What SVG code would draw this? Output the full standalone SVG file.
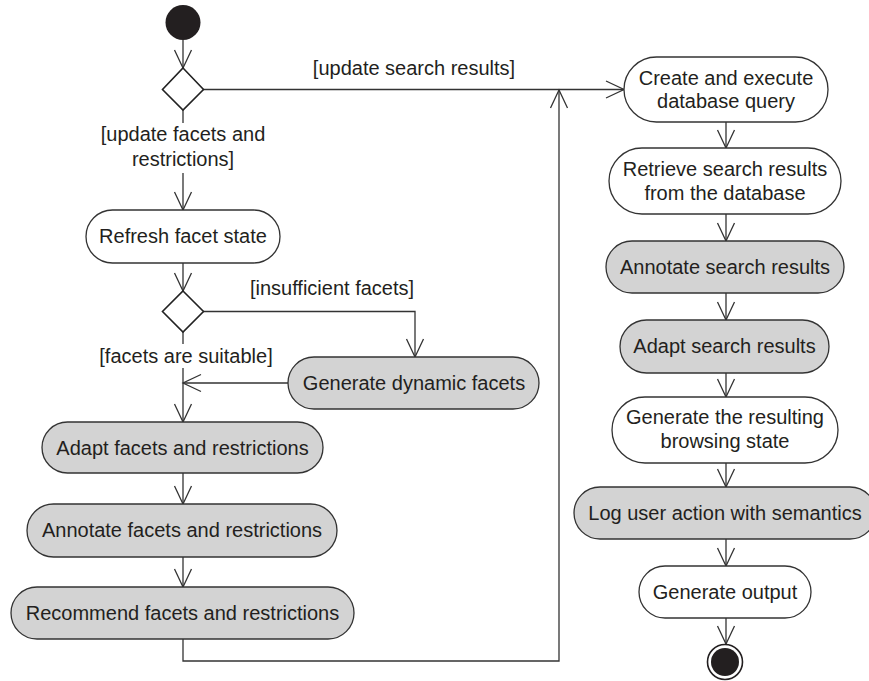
<svg xmlns="http://www.w3.org/2000/svg" width="869" height="681" viewBox="0 0 869 681">
<defs>
<marker id="arr" viewBox="-19 -10 21 20" refX="0" refY="0" markerWidth="21" markerHeight="20" markerUnits="userSpaceOnUse" orient="auto">
<path d="M-18,-8.5 L0,0 L-18,8.5" fill="none" stroke="#333" stroke-width="1.3"/>
</marker>
</defs>
<style>
.act{stroke:#333;stroke-width:1.3}
.w{fill:#fff}
.g{fill:#d3d3d3}
.dec{fill:#fff;stroke:#222;stroke-width:1.6}
text{font-family:"Liberation Sans",Arial,sans-serif;font-size:20px;fill:#231f20}
.c{text-anchor:middle}
.con{fill:none;stroke:#333;stroke-width:1.3}
</style>
<rect width="869" height="681" fill="#fff"/>
<g id="connectors">
<path class="con" d="M183,40 V68" marker-end="url(#arr)"/>
<path class="con" d="M203,89.5 H624" marker-end="url(#arr)"/>
<path class="con" d="M183,110 V123 M183,173 V210" marker-end="url(#arr)"/>
<path class="con" d="M183,263 V291" marker-end="url(#arr)"/>
<path class="con" d="M203,311.5 H415 V357" marker-end="url(#arr)"/>
<path class="con" d="M183,332 V344 M183,368 V422" marker-end="url(#arr)"/>
<path class="con" d="M288,383 H183" marker-end="url(#arr)"/>
<path class="con" d="M183,473 V504" marker-end="url(#arr)"/>
<path class="con" d="M183,557 V587" marker-end="url(#arr)"/>
<path class="con" d="M183,639 V661 H559 V90" marker-end="url(#arr)"/>
<path class="con" d="M726,122 V148" marker-end="url(#arr)"/>
<path class="con" d="M726,214 V241" marker-end="url(#arr)"/>
<path class="con" d="M726,293 V320" marker-end="url(#arr)"/>
<path class="con" d="M726,373 V397" marker-end="url(#arr)"/>
<path class="con" d="M726,463 V487" marker-end="url(#arr)"/>
<path class="con" d="M726,539 V566" marker-end="url(#arr)"/>
<path class="con" d="M726,618 V644" marker-end="url(#arr)"/>
<text x="414" y="75" class="c">[update search results]</text>
<text x="183" y="141" class="c">[update facets and</text>
<text x="183" y="166" class="c">restrictions]</text>
<text x="332" y="295" class="c">[insufficient facets]</text>
<text x="186" y="363" class="c">[facets are suitable]</text>
</g>
<g id="start"><circle cx="183" cy="22.5" r="17.5" fill="#231f20"/></g>
<g id="decision1"><polygon class="dec" points="183,68 203.5,89.5 183,110 162.5,89.5"/></g>
<g id="refresh"><rect class="act w" x="86" y="210" width="194" height="53" rx="26.5"/><text x="183" y="243" class="c">Refresh facet state</text></g>
<g id="decision2"><polygon class="dec" points="183,291 203.5,311.5 183,332 162.5,311.5"/></g>
<g id="gendyn"><rect class="act g" x="288" y="357" width="251" height="52" rx="26"/><text x="414" y="390" class="c">Generate dynamic facets</text></g>
<g id="adaptfr"><rect class="act g" x="42" y="422" width="281" height="51" rx="25.5"/><text x="182.5" y="455" class="c">Adapt facets and restrictions</text></g>
<g id="annotfr"><rect class="act g" x="27" y="504" width="310" height="53" rx="26.5"/><text x="182" y="537" class="c">Annotate facets and restrictions</text></g>
<g id="recfr"><rect class="act g" x="11" y="587" width="343" height="52" rx="26"/><text x="182.5" y="620" class="c">Recommend facets and restrictions</text></g>
<g id="createq"><rect class="act w" x="624" y="57" width="204" height="65" rx="32.5"/><text x="726" y="85" class="c">Create and execute</text><text x="726" y="108" class="c">database query</text></g>
<g id="retrieve"><rect class="act w" x="609" y="148" width="232" height="66" rx="33"/><text x="725" y="176" class="c">Retrieve search results</text><text x="725" y="200" class="c">from the database</text></g>
<g id="annotsr"><rect class="act g" x="606" y="241" width="238" height="52" rx="26"/><text x="725" y="274" class="c">Annotate search results</text></g>
<g id="adaptsr"><rect class="act g" x="620" y="320" width="209" height="53" rx="26.5"/><text x="724.5" y="353" class="c">Adapt search results</text></g>
<g id="genstate"><rect class="act w" x="612" y="397" width="226" height="66" rx="33"/><text x="725" y="424" class="c">Generate the resulting</text><text x="725" y="448" class="c">browsing state</text></g>
<g id="log"><rect class="act g" x="574" y="487" width="302" height="52" rx="26"/><text x="725" y="520" class="c">Log user action with semantics</text></g>
<g id="genout"><rect class="act w" x="639" y="566" width="172" height="52" rx="26"/><text x="725" y="599" class="c">Generate output</text></g>
<g id="end"><circle cx="725" cy="662" r="17.5" fill="#fff" stroke="#231f20" stroke-width="1.6"/><circle cx="725" cy="662" r="14" fill="#231f20"/></g>
</svg>
